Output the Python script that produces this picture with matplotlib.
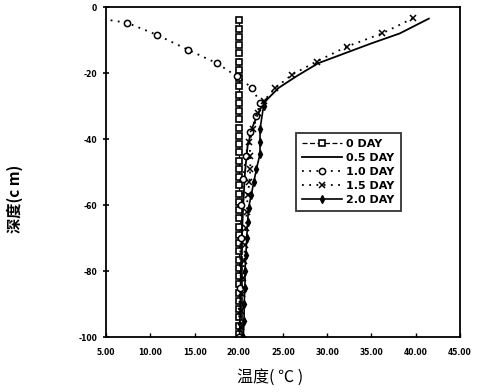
import matplotlib
matplotlib.use("Agg")
import matplotlib.pyplot as plt

# 0 DAY: uniform initial temperature
depth_0 = [-4, -6.5, -9, -11.5, -14, -16.5, -19, -21.5, -24, -26.5, -29, -31.5,
           -34, -36.5, -39, -41.5, -44, -46.5, -49, -51.5, -54, -56.5, -59, -61.5,
           -64, -66.5, -69, -71.5, -74, -76.5, -79, -81.5, -84, -86.5, -89, -91.5,
           -94, -96.5, -99]
temp_0 = [20.0] * len(depth_0)

# 0.5 DAY
temp_05 = [41.5, 38.2, 35.0, 32.0, 29.0, 26.5, 24.5, 23.2, 22.4, 21.6, 21.0, 20.7,
           20.5, 20.3, 20.2, 20.1]
depth_05 = [-3.5, -8, -11, -14, -17, -21, -24.5, -28, -31, -36, -42, -50,
            -60, -72, -85, -100]

# 1.0 DAY
temp_10 = [5.5, 7.4, 10.8, 14.3, 17.5, 19.8, 21.5, 22.4, 22.0, 21.3, 20.8, 20.5,
           20.3, 20.2, 20.1, 20.0]
depth_10 = [-4, -4.8, -8.5, -13, -17, -21, -24.5, -29, -33, -38, -45, -52,
            -60, -70, -85, -100]

# 1.5 DAY
temp_15 = [39.7, 36.2, 32.2, 28.8, 26.0, 24.1, 22.8, 22.2, 21.6, 21.2, 21.3, 21.3,
           21.2, 21.0, 20.9, 20.8, 20.7, 20.6, 20.5, 20.4, 20.3, 20.2]
depth_15 = [-3.4, -8, -12, -16.5, -20.5, -24.6, -28.5, -32, -37, -41, -45, -49,
            -53, -57, -62, -67, -72, -77, -82, -87, -92, -97]

# 2.0 DAY
temp_20 = [22.8, 22.4, 22.4, 22.4, 22.0, 21.7, 21.4, 21.1, 21.0, 20.9, 20.8, 20.7,
           20.7, 20.6, 20.6, 20.5]
depth_20 = [-30, -37, -41, -44.5, -49, -53, -57, -61, -65, -70, -75, -80,
            -85, -90, -95, -100]

x_ticks = [5, 10, 15, 20, 25, 30, 35, 40, 45]
y_ticks = [0, -20, -40, -60, -80, -100]

cjk = ["Noto Sans CJK SC", "DejaVu Sans"]

fig = plt.figure(figsize=(4.85, 3.92), dpi=100)
ax = fig.add_axes([0.219, 0.140, 0.729, 0.842])

ax.plot(temp_0, depth_0, color="black", linestyle=(0, (4, 2)), linewidth=0.9,
        marker="s", markersize=4.8, markerfacecolor="white", markeredgewidth=1.2,
        label="0 DAY")
ax.plot(temp_05, depth_05, color="black", linestyle="-", linewidth=1.3,
        label="0.5 DAY")
ax.plot(temp_10, depth_10, color="black", linestyle=(0, (1, 3)), linewidth=1.3,
        marker="o", markersize=4.5, markerfacecolor="white", markeredgewidth=1.1,
        markevery=list(range(1, len(temp_10))), label="1.0 DAY")
ax.plot(temp_15, depth_15, color="black", linestyle=(0, (1, 3)), linewidth=1.3,
        marker="x", markersize=5, markeredgewidth=1.1, label="1.5 DAY")
ax.plot(temp_20, depth_20, color="black", linestyle="-", linewidth=1.2,
        marker="d", markersize=4, label="2.0 DAY")

ax.set_xlim(5, 45)
ax.set_ylim(-100, 0)
ax.set_xticks(x_ticks)
ax.set_xticklabels([f"{v:.2f}" for v in x_ticks], fontsize=5.5, fontweight="bold")
ax.set_yticks(y_ticks)
ax.set_yticklabels([str(v) for v in y_ticks], fontsize=5.5, fontweight="bold")
ax.tick_params(axis="x", direction="in", length=3, width=1, pad=8)
ax.tick_params(axis="y", direction="inout", length=5, width=1.2, pad=4)
for s in ax.spines.values():
    s.set_linewidth(1.3)

ax.set_xlabel("温度( ℃ )", family=cjk, fontsize=11.5)
ax.xaxis.set_label_coords(0.463, -0.095)
ax.set_ylabel("深度(c m)", family=cjk, fontsize=11, fontweight="bold")
ax.yaxis.set_label_coords(-0.235, 0.42)

leg = ax.legend(loc="upper left", bbox_to_anchor=(0.52, 0.635),
                prop={"weight": "bold", "size": 8}, frameon=True, fancybox=False,
                edgecolor="black", handlelength=3.6, borderpad=0.55,
                labelspacing=0.35, handletextpad=0.4)
leg.get_frame().set_linewidth(1.3)

fig.savefig("out.png", dpi=100)
